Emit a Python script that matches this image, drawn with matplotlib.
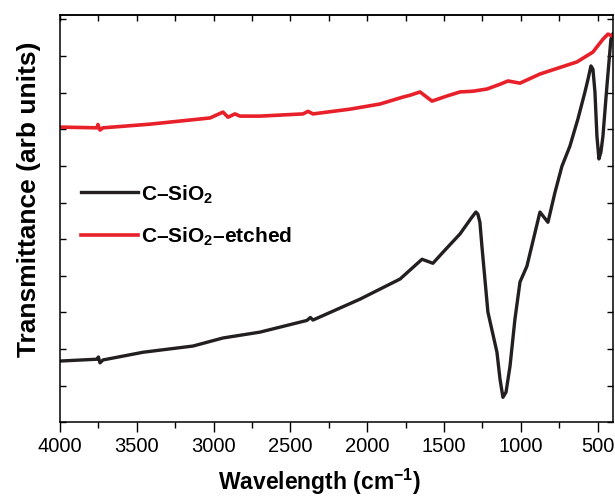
import numpy as np
import matplotlib
matplotlib.use("Agg")
import matplotlib.pyplot as plt
from matplotlib.ticker import MultipleLocator

plt.rcParams['font.family'] = ['Liberation Sans', 'DejaVu Sans']
plt.rcParams['mathtext.fontset'] = 'custom'
plt.rcParams['mathtext.rm'] = 'Liberation Sans'
plt.rcParams['mathtext.bf'] = 'Liberation Sans:bold'

# --------- data --------------------------------- #
wn_plain = [4000, 3760, 3750, 3740, 3720, 3460, 3134, 2939, 2698, 2392, 2370, 2353,
            2047, 1786, 1643, 1572, 1507, 1396, 1318, 1292, 1279, 1266, 1253, 1214,
            1155, 1135, 1116, 1096, 1070, 1038, 1005, 960, 875, 823, 777, 732, 680,
            628, 582, 562, 543, 530, 517, 504, 491, 478, 465, 439, 413, 400]
tr_plain = [1.67, 1.72, 1.78, 1.62, 1.70, 1.91, 2.08, 2.30, 2.46, 2.78, 2.86, 2.79,
            3.36, 3.91, 4.45, 4.34, 4.64, 5.14, 5.60, 5.74, 5.68, 5.46, 4.81, 3.01,
            1.91, 1.17, 0.68, 0.82, 1.53, 2.81, 3.83, 4.26, 5.74, 5.46, 6.28, 6.99, 7.54,
            8.28, 9.02, 9.37, 9.73, 9.64, 9.02, 7.81, 7.19, 7.38, 7.81, 9.18, 10.46, 10.60]

wn_etched = [4000, 3760, 3753, 3740, 3720, 3414, 3023, 2939, 2906, 2861, 2828, 2698,
             2418, 2385, 2353, 2112, 1917, 1767, 1721, 1656, 1578, 1480, 1396, 1311,
             1220, 1135, 1083, 1005, 875, 634, 530, 465, 432, 406]
tr_etched = [8.06, 8.04, 8.13, 7.98, 8.04, 8.14, 8.31, 8.47, 8.33, 8.42, 8.36, 8.36,
             8.42, 8.49, 8.42, 8.55, 8.69, 8.88, 8.93, 9.02, 8.77, 8.91, 9.02, 9.04,
             9.10, 9.23, 9.32, 9.26, 9.51, 9.84, 10.11, 10.46, 10.60, 10.55]

fig = plt.figure(figsize=(6.15, 5.02), dpi=100)
ax = fig.add_axes([0.0976, 0.157, 0.899, 0.811])

ax.plot(wn_plain, tr_plain, color='#231f20', lw=2.4, label=r'C–SiO$_{\mathbf{2}}$')
ax.plot(wn_etched, tr_etched, color='#e8202a', lw=2.6, label=r'C–SiO$_{\mathbf{2}}$–etched')

ax.set_xlim(4000, 400)
ax.set_ylim(0, 11.12)

ax.xaxis.set_major_locator(MultipleLocator(500))
ax.xaxis.set_minor_locator(MultipleLocator(250))
ax.yaxis.set_major_locator(MultipleLocator(1))
ax.tick_params(axis='x', which='major', direction='out', length=7, width=1, labelsize=14.5, pad=3)
ax.tick_params(axis='x', which='minor', direction='out', length=4, width=1)
ax.tick_params(axis='y', which='both', direction='in', length=4, width=1,
               left=True, right=True, labelleft=False)

top = ax.secondary_xaxis('top')
top.xaxis.set_major_locator(MultipleLocator(250))
top.tick_params(direction='in', length=4, width=1, labeltop=False)

for s in ax.spines.values():
    s.set_linewidth(1.1)
top.spines['top'].set_linewidth(1.1)

ax.set_xlabel(r'Wavelength (cm$^{\mathbf{-1}}$)', fontsize=16.5, fontweight='bold')
ax.xaxis.set_label_coords(0.47, -0.108)
ax.set_ylabel('Transmittance (arb units)', fontsize=19, fontweight='bold')
ax.yaxis.set_label_coords(-0.034, 0.55)

leg = ax.legend(loc='upper left', bbox_to_anchor=(0.0, 0.64), frameon=False,
                prop={'weight': 'bold', 'size': 15}, handlelength=2.75,
                labelspacing=0.95, handletextpad=0.15, borderaxespad=0.6)

fig.savefig('out.png', dpi=100)
